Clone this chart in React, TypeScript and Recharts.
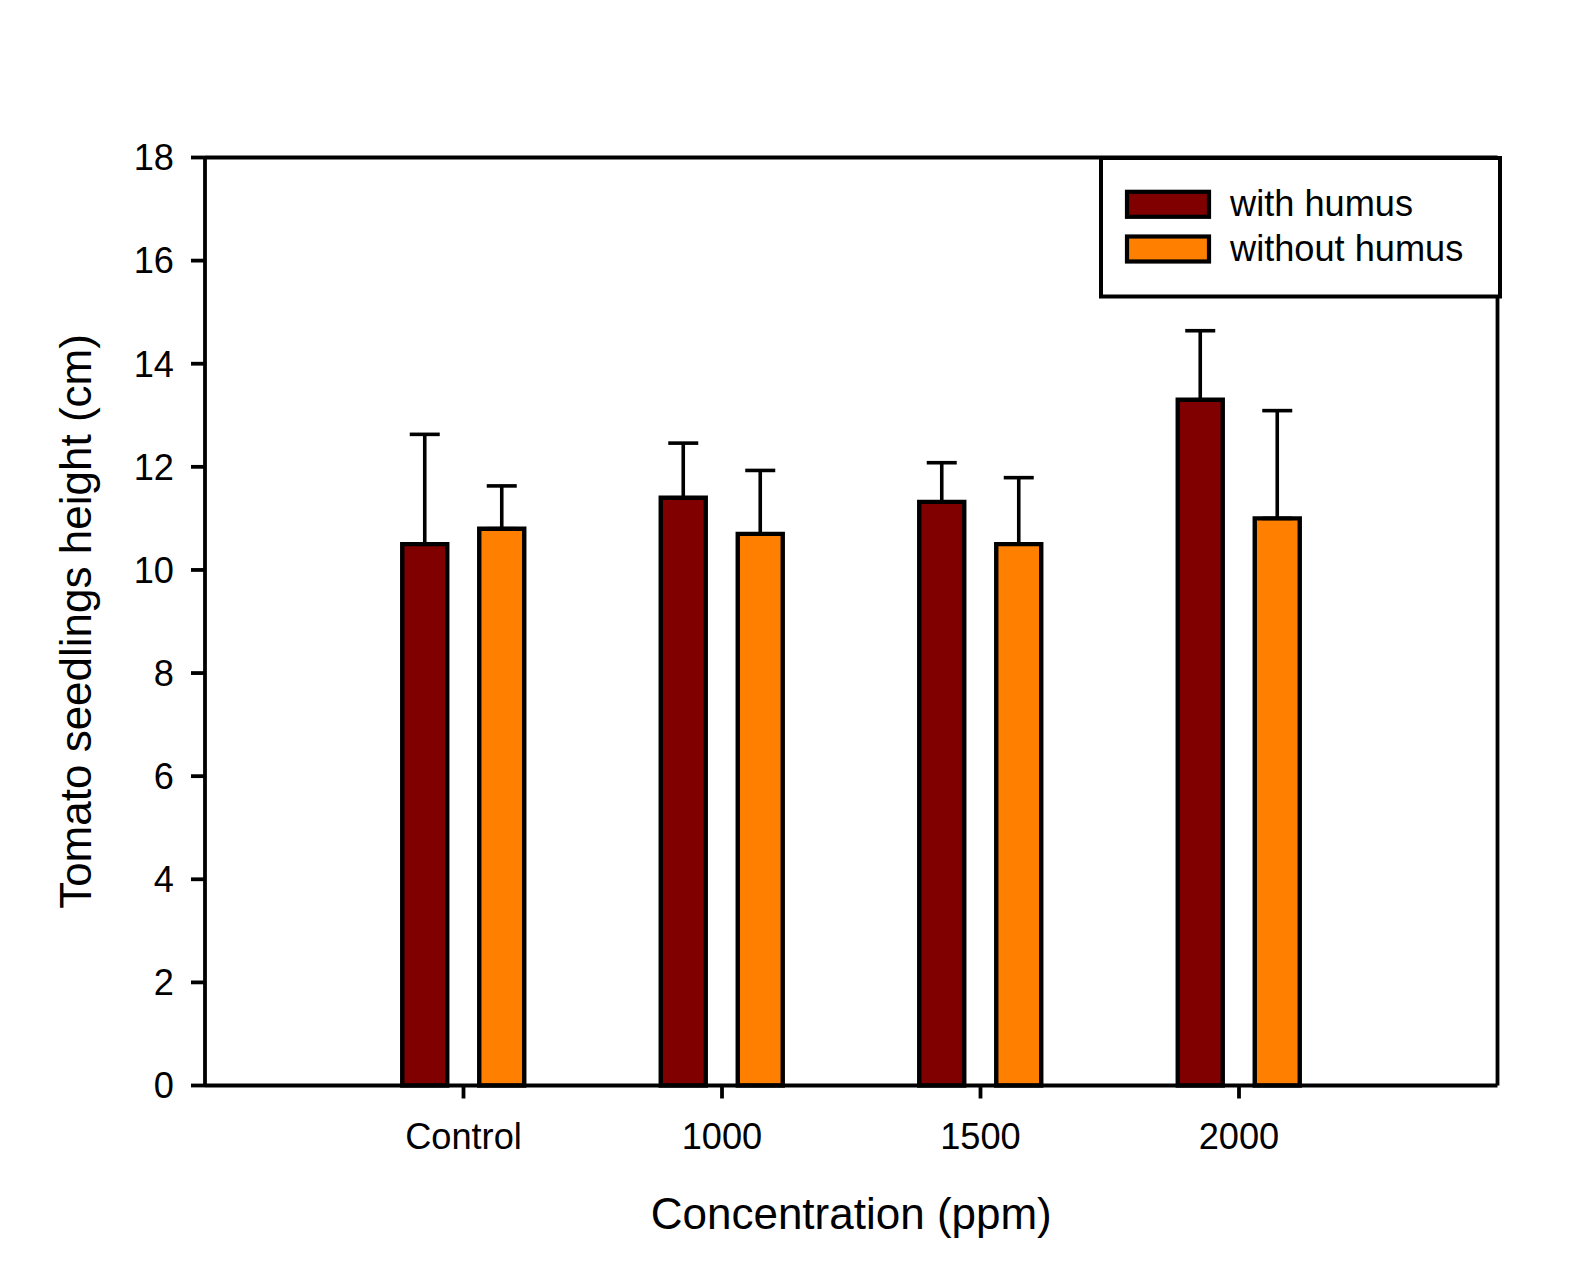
import { BarChart, Bar, XAxis, YAxis, ErrorBar, Legend } from "recharts";

const categories = ["Control", "1000", "1500", "2000"];
const withHumus = [10.5, 11.4, 11.32, 13.3];
const withHumusErr = [2.13, 1.06, 0.76, 1.34];
const withoutHumus = [10.8, 10.7, 10.5, 11.0];
const withoutHumusErr = [0.83, 1.23, 1.29, 2.09];
const yTicks = [0, 2, 4, 6, 8, 10, 12, 14, 16, 18];

const series = [
  { key: "with", name: "with humus", color: "#800000" },
  { key: "without", name: "without humus", color: "#ff8000" },
];

const FONT = "'Liberation Sans', Arial, sans-serif";

const data = categories.map((c, i) => ({
  name: c,
  with: withHumus[i],
  withErr: [0, withHumusErr[i]],
  without: withoutHumus[i],
  withoutErr: [0, withoutHumusErr[i]],
}));

function LegendBox() {
  return (
    <svg width={404} height={144} style={{ display: "block" }}>
      <rect x={2} y={2} width={399} height={138.5} fill="#fff" stroke="#000" strokeWidth={4} />
      {series.map((s, i) => (
        <g key={s.key}>
          <rect
            x={28}
            y={35.8 + i * 44.7}
            width={82}
            height={25}
            fill={s.color}
            stroke="#000"
            strokeWidth={4.2}
          />
          <text x={131} y={59.5 + i * 45.7} fontSize={36.2} fontFamily={FONT} fill="#000">
            {s.name}
          </text>
        </g>
      ))}
    </svg>
  );
}

export default function App() {
  return (
    <div style={{ position: "absolute", left: 0, top: 0, background: "#fff" }}>
      <BarChart
        width={1583}
        height={1283}
        data={data}
        margin={{ top: 156.5, right: 84.5, left: 0, bottom: 0 }}
        barSize={45}
        barGap={32}
      >
        <XAxis
          dataKey="name"
          height={197.5}
          padding={{ left: 129.25, right: 129.25 }}
          axisLine={{ stroke: "#000", strokeWidth: 3.8 }}
          tickLine={{ stroke: "#000", strokeWidth: 3.8 }}
          tickSize={13}
          tickMargin={25}
          tick={{ fontSize: 36.2, fill: "#000", fontFamily: FONT }}
          label={{
            value: "Concentration (ppm)",
            position: "center",
            dy: 28.75,
            style: { fontSize: 44, fill: "#000", fontFamily: FONT },
          }}
        />
        <XAxis
          xAxisId="top"
          dataKey="name"
          orientation="top"
          height={1}
          tick={false}
          tickLine={false}
          axisLine={{ stroke: "#000", strokeWidth: 3.8 }}
        />
        <YAxis
          width={205}
          domain={[0, 18]}
          ticks={yTicks}
          interval={0}
          axisLine={{ stroke: "#000", strokeWidth: 3.8 }}
          tickLine={{ stroke: "#000", strokeWidth: 3.8 }}
          tickSize={14}
          tickMargin={17}
          tick={{ fontSize: 36.2, fill: "#000", fontFamily: FONT }}
          label={{
            value: "Tomato seedlings height (cm)",
            angle: -90,
            position: "center",
            dx: -27.5,
            style: { fontSize: 44, fill: "#000", fontFamily: FONT },
          }}
        />
        <YAxis
          yAxisId="right"
          orientation="right"
          width={1}
          tick={false}
          tickLine={false}
          axisLine={{ stroke: "#000", strokeWidth: 3.8 }}
        />
        <Legend
          layout="horizontal"
          verticalAlign="middle"
          align="center"
          content={() => <LegendBox />}
          wrapperStyle={{ left: 1099, top: 155.5, right: "auto", bottom: "auto", width: 404, height: 144 }}
        />
        {series.map((s) => (
          <Bar
            key={s.key}
            dataKey={s.key}
            name={s.name}
            fill={s.color}
            stroke="#000"
            strokeWidth={4.4}
            isAnimationActive={false}
          >
            <ErrorBar
              dataKey={s.key + "Err"}
              width={15}
              stroke="#000"
              strokeWidth={3.6}
              isAnimationActive={false}
            />
          </Bar>
        ))}
      </BarChart>
    </div>
  );
}
